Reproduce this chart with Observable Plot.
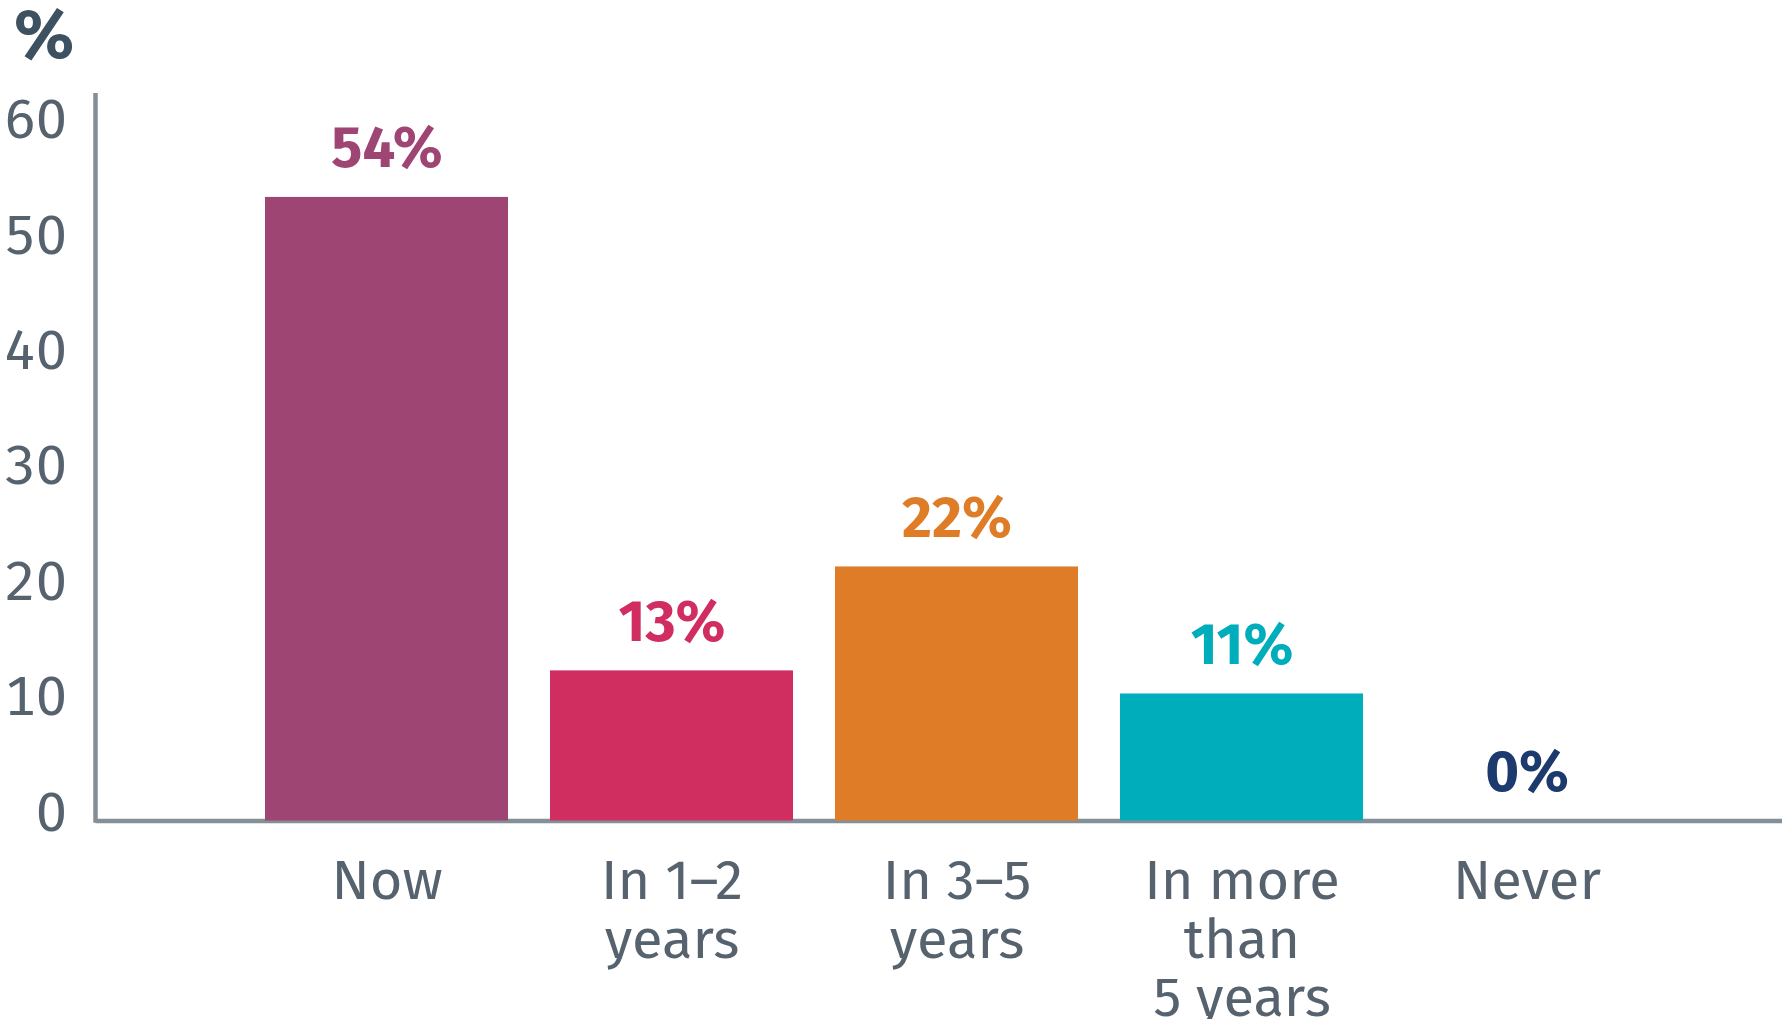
<!DOCTYPE html>
<html>
<head>
<meta charset="utf-8">
<script src="https://cdn.jsdelivr.net/npm/d3@7"></script>
<script src="https://cdn.jsdelivr.net/npm/@observablehq/plot@0.6"></script>
<style>
  html, body { margin: 0; padding: 0; background: #fff; }
  #chart { width: 1782px; height: 1019px; overflow: hidden; }
  svg { font-family: "Fira Sans", Lato, "Open Sans", sans-serif; }
</style>
</head>
<body>
<div id="chart"></div>
<script>
const categories = ["Now", "In 1–2\nyears", "In 3–5\nyears", "In more\nthan\n5 years", "Never"];
const values = [54, 13, 22, 11, 0];
const valueLabels = ["54%", "13%", "22%", "11%", "0%"];
const barColors = ["#9e4574", "#d02e60", "#df7c27", "#00adbb", "#1c3a6e"];
const yTicks = [0, 10, 20, 30, 40, 50, 60];
const unitLabel = "%";

const data = categories.map((c, i) => ({cat: c, value: values[i], label: valueLabels[i], color: barColors[i]}));

const W = 1782, H = 1019;
const mLeft = 95.5, mTop = 93, mBottom = 198.5;
const axisColor = "#858f97";
const textColor = "#56636e";

const chart = Plot.plot({
  width: W,
  height: H,
  marginLeft: mLeft,
  marginRight: 0,
  marginTop: mTop,
  marginBottom: mBottom,
  style: {fontFamily: '"Fira Sans", Lato, "Open Sans", sans-serif', background: "white", overflow: "visible"},
  x: {type: "band", domain: categories, range: [242, 1671], paddingInner: 0.149, paddingOuter: 0.0745, label: null},
  y: {domain: [0, 63], label: null},
  color: {type: "identity"},
  marks: [
    Plot.ruleY([0], {stroke: axisColor, strokeWidth: 4.5}),
    Plot.barY(data, {x: "cat", y: "value", fill: "color"}),
    Plot.text(data, {x: "cat", y: "value", text: "label", fill: "color", fontSize: 58, fontWeight: "bold", lineAnchor: "bottom", dy: -30}),
    Plot.axisY({ticks: yTicks, tickSize: 0, tickPadding: 29, fontSize: 56, fill: textColor, dy: -8, label: null}),
    Plot.axisX({tickSize: 0, tickPadding: 37, fontSize: 56, lineHeight: 1.04, fill: textColor, label: null}),
    Plot.text([unitLabel], {frameAnchor: "top-left", textAnchor: "start", lineAnchor: "bottom", dx: -82, dy: -36, fontSize: 70, fontWeight: "bold", fill: "#3d5160"})
  ]
});

// left axis line drawn with the plot's own y scale
const ys = chart.scale("y");
d3.select(chart).append("line")
  .attr("x1", mLeft).attr("x2", mLeft)
  .attr("y1", ys.range[1]).attr("y2", ys.range[0] + 2.25)
  .attr("stroke", axisColor).attr("stroke-width", 4.5);

document.getElementById("chart").appendChild(chart);
</script>
</body>
</html>
